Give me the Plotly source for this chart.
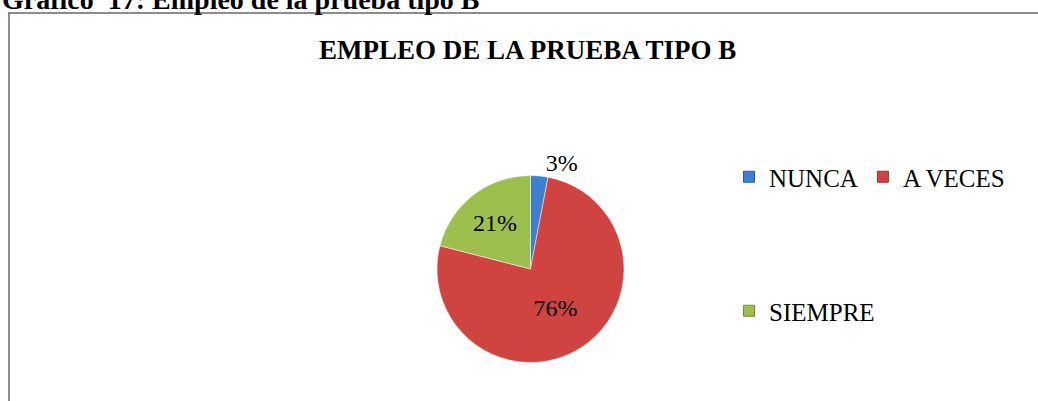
import plotly.graph_objects as go

# Data
categories = ["NUNCA", "A VECES", "SIEMPRE"]
percentages = [3, 76, 21]
colors = ["#3F7FCF", "#CF4340", "#9DBF4E"]
edge_colors = ["#2C5C99", "#943330", "#6F8A35"]
text_positions = ["outside", "inside", "inside"]
chart_title = "EMPLEO DE LA PRUEBA TIPO B"
caption = "Gráfico  17: Empleo de la prueba tipo B"

W, H = 1038, 401
SERIF = "Liberation Serif, Times New Roman, serif"

fig = go.Figure()

fig.add_trace(go.Pie(
    labels=categories,
    values=percentages,
    sort=False,
    direction="clockwise",
    rotation=0,
    marker=dict(colors=colors, line=dict(color="rgba(255,255,255,0.6)", width=0.8)),
    texttemplate="%{value}%",
    textposition=text_positions,
    insidetextorientation="horizontal",
    textfont=dict(family=SERIF, size=24, color="black"),
    showlegend=False,
    hoverinfo="label+percent",
    domain=dict(x=[437 / W, 624 / W], y=[1 - 363 / H, 1 - 175 / H]),
))

legend_ids = ["legend", "legend", "legend2"]
for name, c, ec, lg in zip(categories, colors, edge_colors, legend_ids):
    fig.add_trace(go.Scatter(
        x=[None], y=[None], mode="markers", name=name,
        marker=dict(symbol="square", size=11, color=c, line=dict(color=ec, width=1)),
        legend=lg, showlegend=True,
    ))

legend_common = dict(
    orientation="h",
    font=dict(family=SERIF, size=25, color="black"),
    bgcolor="rgba(0,0,0,0)",
    xanchor="left",
    yanchor="middle",
    itemclick=False,
)

fig.update_layout(
    width=W, height=H,
    margin=dict(l=0, r=0, t=0, b=0),
    paper_bgcolor="white",
    plot_bgcolor="white",
    xaxis=dict(visible=False),
    yaxis=dict(visible=False),
    legend=dict(x=729 / W, y=1 - 177 / H, **legend_common),
    legend2=dict(x=729 / W, y=1 - 311 / H, **legend_common),
    shapes=[dict(
        type="rect", xref="paper", yref="paper",
        x0=9 / W, x1=1.2, y0=-0.2, y1=1 - 13 / H,
        line=dict(color="#8C8C8C", width=2), fillcolor="rgba(0,0,0,0)",
        layer="below",
    )],
    annotations=[
        dict(text="<b>" + chart_title + "</b>", xref="paper", yref="paper",
             x=527 / W, y=1 - 50 / H, xanchor="center", yanchor="middle",
             showarrow=False, font=dict(family=SERIF, size=27, color="black")),
        dict(text="<b>" + caption + "</b>", xref="paper", yref="paper",
             x=0, y=1 - 17 / H, xanchor="left", yanchor="bottom",
             showarrow=False, font=dict(family=SERIF, size=28, color="black")),
    ],
)

fig.write_html(
    "out.html",
    config={"displayModeBar": False},
    post_script="document.body.style.margin='0';document.body.style.padding='0';",
)
